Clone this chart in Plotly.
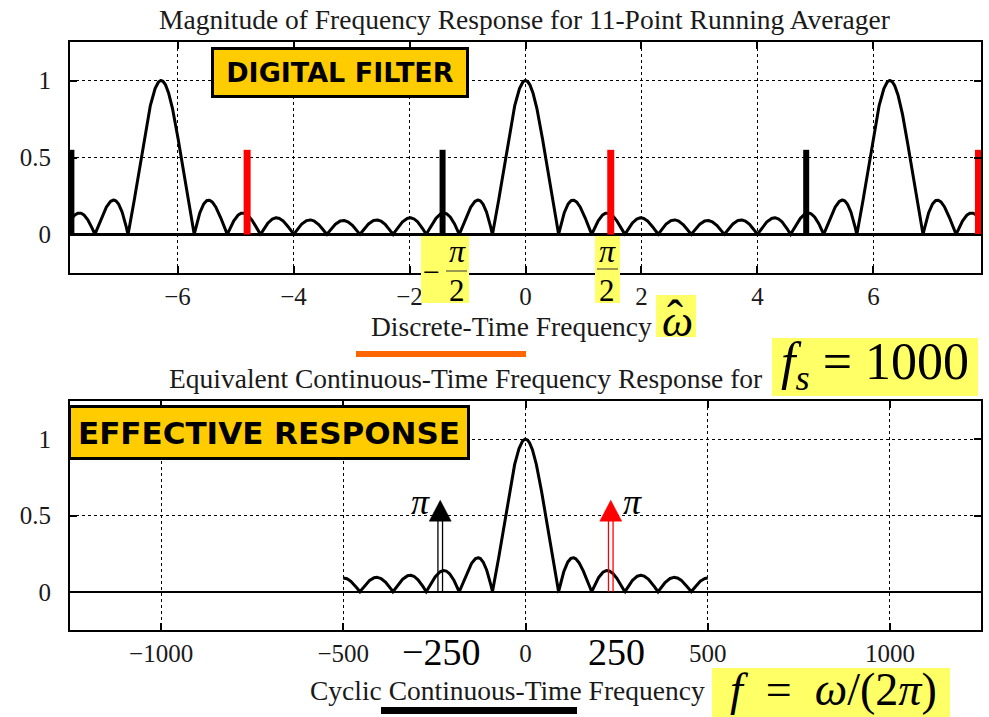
import numpy as np
import plotly.graph_objects as go

# ---------------- data ----------------
filter_length = 11
filter_taps = [1.0 / filter_length] * filter_length   # 11-point running averager
fs = 1000                                             # sampling rate (Hz)
omega_span = [-2.5 * np.pi, 2.5 * np.pi]
freq_span = [-fs / 2, fs / 2]

top_xticks = [-6, -4, -2, 0, 2, 4, 6]
y_ticks = [0, 0.5, 1]
y_ticktext = ["0", "0.5", "1"]
bot_xticks = [-1000, -500, 0, 500, 1000]

black_bar_x = [-7.83, -1.43, 4.84]
red_bar_x = [-4.80, 1.47, 7.81]
bar_heights = [0.55, 0.55, 0.55]

arrow_freqs = [-234, 234]
arrow_colors = ["black", "#FF0000"]
arrow_height = 0.60

big_tick_vals = [-250, 250]
big_tick_text = ["−250", "250"]

# ---------------- computed response ----------------
def mag_response(w):
    k = np.arange(len(filter_taps))
    H = np.exp(-1j * np.outer(w, k)) @ np.array(filter_taps)
    return np.abs(H)

w_top = np.linspace(omega_span[0], omega_span[1], 3001)
m_top = mag_response(w_top)
f_bot = np.linspace(freq_span[0], freq_span[1], 1601)
m_bot = mag_response(2 * np.pi * f_bot / fs)

W, Hh = 989, 717
ML, MR = 70, 8
PW = W - ML - MR


def PX(x):
    return (x - ML) / PW


def PY(y):
    return 1 - y / Hh


SERIF = "Liberation Serif"
SANS = "DejaVu Sans"
TXT = "#1a1a1a"
YEL = "#FFFF66"
GOLD = "#FFCC00"
NB = "\u00a0"

fig = go.Figure()

fig.add_trace(go.Scatter(x=w_top, y=m_top, mode="lines",
                         line=dict(color="black", width=3),
                         xaxis="x", yaxis="y", showlegend=False, hoverinfo="skip"))
for bx, bh in zip(black_bar_x, bar_heights):
    fig.add_trace(go.Scatter(x=[bx, bx], y=[0, bh], mode="lines",
                             line=dict(color="black", width=6),
                             xaxis="x", yaxis="y", showlegend=False, hoverinfo="skip"))
for rx, rh in zip(red_bar_x, bar_heights):
    fig.add_trace(go.Scatter(x=[rx, rx], y=[0, rh], mode="lines",
                             line=dict(color="#FF0000", width=7),
                             xaxis="x", yaxis="y", showlegend=False, hoverinfo="skip"))

fig.add_trace(go.Scatter(x=f_bot, y=m_bot, mode="lines",
                         line=dict(color="black", width=3),
                         xaxis="x2", yaxis="y2", showlegend=False, hoverinfo="skip"))

axis_common = dict(
    showgrid=True, gridcolor="black", griddash="dot", gridwidth=1.3,
    ticks="inside", ticklen=7, tickwidth=1.5, tickcolor="black",
    showline=True, linecolor="black", linewidth=2, mirror="ticks",
    tickfont=dict(family=SERIF, size=25, color=TXT),
    automargin=False,
)

fig.update_layout(
    width=W, height=Hh,
    margin=dict(l=ML, r=MR, t=0, b=0, autoexpand=False),
    paper_bgcolor="white", plot_bgcolor="white",
    showlegend=False,
    xaxis=dict(domain=[0, 1], range=omega_span, tickvals=top_xticks,
               zeroline=False, anchor="y", ticklabelstandoff=0, **axis_common),
    yaxis=dict(domain=[PY(273), PY(42)], range=[-0.25, 1.25], tickvals=y_ticks,
               ticktext=y_ticktext, zeroline=True, zerolinecolor="black",
               zerolinewidth=3, anchor="x", ticklabelstandoff=12, **axis_common),
    xaxis2=dict(domain=[0, 1], range=[-1250, 1250], tickvals=bot_xticks,
                zeroline=False, anchor="y2", ticklabelstandoff=0, **axis_common),
    yaxis2=dict(domain=[PY(630), PY(401)], range=[-0.25, 1.25], tickvals=y_ticks,
                ticktext=y_ticktext, zeroline=True, zerolinecolor="black",
                zerolinewidth=2, anchor="x2", ticklabelstandoff=12, **axis_common),
)

shapes = []
# arrows (double stem + triangular head)
for fa, col in zip(arrow_freqs, arrow_colors):
    for dx in (-2.3, 2.3):
        shapes.append(dict(type="line", xref="x2", yref="y2", xsizemode="pixel",
                           xanchor=fa, x0=dx, x1=dx, y0=0, y1=arrow_height - 0.13,
                           line=dict(color=col, width=1.3)))
    shapes.append(dict(type="path", xref="x2", yref="y2", xsizemode="pixel",
                       xanchor=fa,
                       path=f"M -11,{arrow_height - 0.137} L 11,{arrow_height - 0.137} L 0,{arrow_height} Z",
                       fillcolor=col, line=dict(color=col, width=0.5)))

# yellow fraction boxes and highlight
shapes.append(dict(type="rect", xref="paper", yref="paper", layer="above",
                   x0=PX(421), x1=PX(469), y0=PY(303), y1=PY(236),
                   fillcolor=YEL, line=dict(width=0)))
shapes.append(dict(type="rect", xref="paper", yref="paper", layer="above",
                   x0=PX(595), x1=PX(620), y0=PY(303), y1=PY(236),
                   fillcolor=YEL, line=dict(width=0)))
shapes.append(dict(type="line", xref="paper", yref="paper", layer="above",
                   x0=PX(446), x1=PX(467), y0=PY(271), y1=PY(271),
                   line=dict(color="#77774a", width=1.5)))
shapes.append(dict(type="line", xref="paper", yref="paper", layer="above",
                   x0=PX(597), x1=PX(618), y0=PY(269), y1=PY(269),
                   line=dict(color="#77774a", width=1.5)))
# omega-hat highlight
shapes.append(dict(type="rect", xref="paper", yref="paper", layer="above",
                   x0=PX(656), x1=PX(696), y0=PY(337), y1=PY(295),
                   fillcolor=YEL, line=dict(width=0)))
# orange and black underline bars
shapes.append(dict(type="rect", xref="paper", yref="paper", layer="above",
                   x0=PX(356), x1=PX(526), y0=PY(357), y1=PY(351),
                   fillcolor="#FF6600", line=dict(width=0)))
shapes.append(dict(type="rect", xref="paper", yref="paper", layer="above",
                   x0=PX(381), x1=PX(577), y0=PY(714), y1=PY(707),
                   fillcolor="black", line=dict(width=0)))
# fs and f highlight boxes
shapes.append(dict(type="rect", xref="paper", yref="paper", layer="above",
                   x0=PX(772), x1=PX(978), y0=PY(396), y1=PY(338),
                   fillcolor=YEL, line=dict(width=0)))
shapes.append(dict(type="rect", xref="paper", yref="paper", layer="above",
                   x0=PX(712), x1=PX(950), y0=PY(717), y1=PY(668),
                   fillcolor=YEL, line=dict(width=0)))
fig.update_layout(shapes=shapes)

ann = []


def T(text, x, y, size, family=SERIF, color=TXT, **kw):
    d = dict(text=text, x=PX(x), y=PY(y), xref="paper", yref="paper",
             showarrow=False, xanchor="center", yanchor="middle",
             font=dict(family=family, size=size, color=color))
    d.update(kw)
    ann.append(d)


T("Magnitude of Frequency Response for 11-Point Running Averager", 524, 19, 27.5)
T("<b>DIGITAL FILTER</b>", 340, 73, 27, family=SANS, color="black",
  bgcolor=GOLD, bordercolor="black", borderwidth=3, borderpad=0,
  width=252, height=45)
T("Discrete-Time Frequency", 511, 326, 27.5)
T("<i>ω</i>", 677, 321, 44, color="black")
T("ˆ", 675, 318, 48, color="black")
# fractions
T("−", 431, 271, 30, color="black")
T("<i>π</i>", 457, 251, 32, color="black")
T("2", 457, 290, 31, color="black")
T("<i>π</i>", 607, 251, 32, color="black")
T("2", 607, 290, 31, color="black")

T("Equivalent Continuous-Time Frequency Response for", 465, 378, 27.5)
T(f"<i>f</i><sub><i>s</i></sub>{NB}={NB}1000", 875, 365, 52, color="black")
T("<b>EFFECTIVE RESPONSE</b>", 269, 432, 31, family=SANS, color="black",
  bgcolor=GOLD, bordercolor="black", borderwidth=3, borderpad=0,
  width=396, height=49)

T("Cyclic Continuous-Time Frequency", 507, 690, 27.5)
T(f"<i>f</i>{NB}{NB}={NB}{NB}<i>ω</i>/(2<i>π</i>)", 833, 689, 46, color="black")

# big tick labels at +/-250 on the lower axis
for v, t, sh in zip(big_tick_vals, big_tick_text, [7, 0]):
    ann.append(dict(text=t, x=v, y=PY(652), xref="x2", yref="paper",
                    yanchor="middle", xanchor="center", showarrow=False,
                    xshift=sh,
                    font=dict(family=SERIF, size=38, color="black")))

# pi labels next to arrows
for fa, dx in zip(arrow_freqs, [-20, 22]):
    ann.append(dict(text="<i>π</i>", x=fa, y=arrow_height, xref="x2", yref="y2",
                    showarrow=False, xanchor="center", yanchor="middle",
                    xshift=dx, yshift=-2,
                    font=dict(family=SERIF, size=36, color="black")))

fig.update_layout(annotations=ann)

fig.write_html(
    "out.html",
    config={"displayModeBar": False},
    post_script="document.body.style.margin='0';document.body.style.overflow='hidden';",
)
